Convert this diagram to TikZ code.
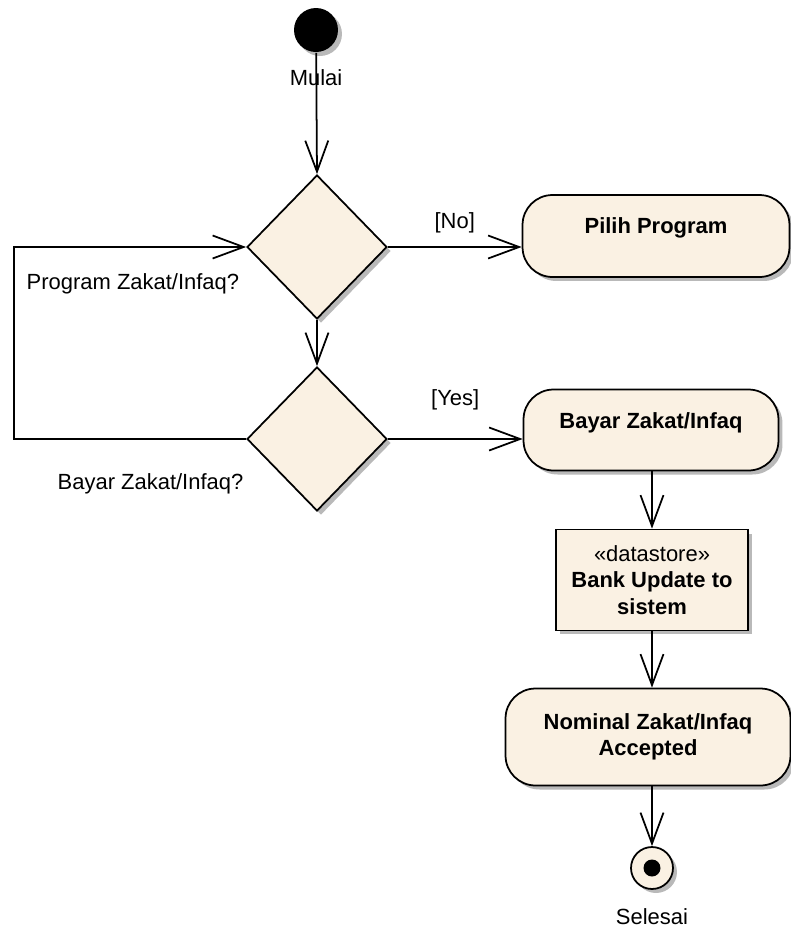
\documentclass[tikz,border=0pt]{standalone}
\usepackage{fontspec}
\setmainfont{Liberation Sans}
\usetikzlibrary{shapes.geometric,arrows.meta,shadows}
\definecolor{actfill}{RGB}{250,241,227}
\definecolor{shadowgray}{RGB}{185,185,185}
\tikzset{
  boxshadow/.style={drop shadow={shadow xshift=0.08cm,shadow yshift=-0.08cm,fill=shadowgray,opacity=1}},
  lbl/.style={font=\fontsize{12.5}{15}\selectfont},
  action/.style={draw,fill=actfill,rounded corners=0.6cm,boxshadow,align=center,
    font=\bfseries\fontsize{12.5}{15}\selectfont},
  storebox/.style={draw,fill=actfill,boxshadow,align=center,
    font=\bfseries\fontsize{12.5}{15}\selectfont},
  decision/.style={diamond,draw,fill=actfill,boxshadow,inner sep=0pt,
    minimum width=2.8cm,minimum height=2.88cm},
  flow/.style={-{Straight Barb[length=0.62cm,width=0.46cm]}}
}
\begin{document}
\begin{tikzpicture}[x=0.02cm,y=-0.02cm,line width=1pt]
\useasboundingbox (0,0) rectangle (791,931);
% start and the two decisions
\node[circle,fill=black,boxshadow,minimum size=0.88cm,inner sep=0pt] (start) at (316,30) {};
\node[lbl] (mulai) at (316,78) {Mulai};
\node[decision] (prog) at (317,247) {};
\node[decision] (bayarq) at (317,439) {};
\node[lbl,anchor=west] (proglbl) at (20,284) {Program Zakat/Infaq?};
\node[lbl,anchor=west] (bayarlbl) at (51,484) {Bayar Zakat/Infaq?};
% actions
\node[action,minimum width=5.34cm,minimum height=1.64cm,text depth=0.4cm] (pilih) at (656,236) {Pilih Program};
\node[action,minimum width=5.1cm,minimum height=1.62cm,text depth=0.37cm] (bayar) at (651,430) {Bayar Zakat/Infaq};
\node[storebox,minimum width=3.84cm,minimum height=2.02cm] (bank) at (652,580)
  {{\mdseries «datastore»}\\Bank Update to\\sistem};
\node[action,minimum width=5.7cm,minimum height=1.94cm] (nominal) at (648,737) {Nominal Zakat/Infaq\\Accepted};
% end
\node[circle,draw,fill=actfill,boxshadow,minimum size=0.84cm,inner sep=0pt] (stop) at (652,868) {};
\node[circle,fill=black,minimum size=0.34cm,inner sep=0pt] (stopdot) at (stop) {};
\node[lbl] (selesai) at (652,917) {Selesai};
% flows
\coordinate (back) at (14,439);
\draw[flow] (start) -- (prog.north);
\draw[flow] (prog.east) -- (prog.east -| pilih.west) node[lbl,midway,above=0.14cm] (no) {[No]};
\draw[flow] (prog.south) -- (bayarq.north);
\draw[flow] (bayarq.east) -- (bayarq.east -| bayar.west) node[lbl,midway,above=0.44cm] (yes) {[Yes]};
\draw[flow] (bayarq.west) -- (back) |- (prog.west);
\draw[flow] (bayar.south -| bank.north) -- (bank.north);
\draw[flow] (bank.south) -- (bank.south |- nominal.north);
\draw[flow] (nominal.south -| stop.north) -- (stop.north);
\end{tikzpicture}
\end{document}
